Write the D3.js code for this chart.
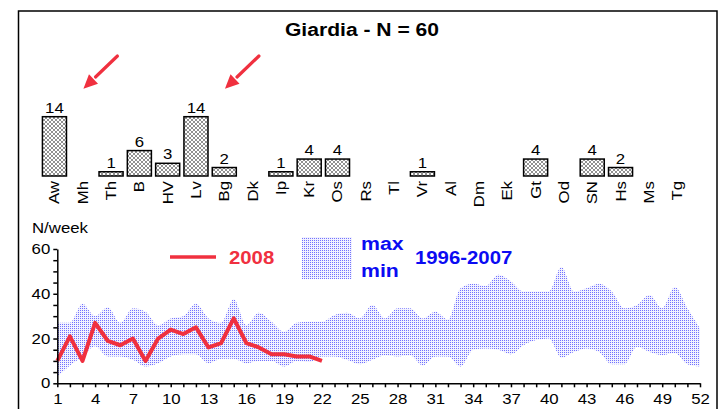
<!DOCTYPE html>
<html>
<head>
<meta charset="utf-8">
<script src="https://cdn.jsdelivr.net/npm/d3@7"></script>
<style>
  body { margin: 0; background: #fff; }
  svg { display: block; font-family: "Liberation Sans", Arial, sans-serif; }
  .axis path, .axis line { stroke: #000; stroke-width: 1.5px; }
  .axis text { font-size: 14px; fill: #000; }
</style>
</head>
<body>
<svg id="chart" width="724" height="409"></svg>
<script>
  // cases per municipality, 2008
  const regions = ['Aw','Mh','Th','B','HV','Lv','Bg','Dk','Ip','Kr','Os','Rs','Tl','Vr','Al','Dm','Ek','Gt','Od','SN','Hs','Ms','Tg'];
  const cases = [14,0,1,6,3,14,2,0,1,4,4,0,0,1,0,0,0,4,0,4,2,0,0];
  const arrowTargets = ['Aw', 'Lv'];

  // weekly counts
  const weeks = d3.range(1, 53);
  const max9607 = [27,27,35.5,30,34,27,33.5,32,26,29,30,35.5,29,27,37.5,26,31.5,27.5,23,27,
    27.5,27.5,30.5,31.5,29,35,29,33.5,33.5,29,32,28.5,42.5,44.5,43.5,48.5,45.5,41,41,41,
    52,41,42.5,44.5,41,33.5,35,39.5,33.5,43,33.5,24.5];
  const min9607 = [3,8,12,16.5,12,12,10.5,7.5,9,12,13,13,9,11,11,9,10,10,7.5,10,
    9.5,12,12,10.5,8.5,10.5,12.5,12,12.5,8,12,12,7.5,15,15.5,15,13,17,19.3,20,
    11.5,14,15.6,14,8.5,8.5,16.3,14,12.6,13.5,8.5,7.5];
  const y2008 = [10,21,10,27,19,17,20,10,20,24,22,25,16,18,29,18,16,13,13,12,12,10];

  const red = '#f0303f';
  const blue = '#0b0bf2';
  const sx = 1.2; // glyphs in the original are drawn wide

  const svg = d3.select('#chart');
  const defs = svg.append('defs');

  const hatch = defs.append('pattern').attr('id', 'hatch')
    .attr('patternUnits', 'userSpaceOnUse').attr('width', 4).attr('height', 4);
  hatch.append('rect').attr('width', 4).attr('height', 4).attr('fill', '#fff');
  hatch.append('path').attr('d', 'M0,0L4,4M4,0L0,4M-1,3L1,5M3,-1L5,1M-1,1L1,-1M3,5L5,3')
    .attr('stroke', '#555').attr('stroke-width', 0.65);

  const dots = defs.append('pattern').attr('id', 'dots')
    .attr('patternUnits', 'userSpaceOnUse').attr('width', 2).attr('height', 2);
  dots.append('rect').attr('width', 2).attr('height', 2).attr('fill', '#f2f2ff');
  dots.append('rect').attr('width', 1).attr('height', 1).attr('fill', '#7272ff');

  // frame (bottom edge runs off the picture)
  svg.append('rect').attr('x', 18.5).attr('y', 11).attr('width', 698.5).attr('height', 430)
    .attr('fill', 'none').attr('stroke', '#000').attr('stroke-width', 1.5);

  function wideText(g, x, y, s, k) {
    return g.append('text').attr('transform', `translate(${x},${y}) scale(${k || sx},1)`).text(s);
  }

  wideText(svg, 362, 36, 'Giardia - N = 60', 1.14)
    .attr('text-anchor', 'middle').attr('font-weight', 'bold').attr('font-size', 18.5);

  // ---- bars
  const xb = d3.scaleBand().domain(regions).range([40.3, 691.3])
    .paddingInner(0.15).paddingOuter(0.075);
  const yb = d3.scaleLinear().domain([0, 14]).range([176, 116.7]);
  const bars = svg.append('g');
  regions.forEach((r, i) => {
    const v = cases[i];
    const cx = xb(r) + xb.bandwidth() / 2;
    if (v > 0) {
      bars.append('rect').attr('x', xb(r)).attr('y', yb(v))
        .attr('width', xb.bandwidth()).attr('height', yb(0) - yb(v))
        .attr('fill', 'url(#hatch)').attr('stroke', '#000').attr('stroke-width', 1.5);
      wideText(bars, cx, yb(v) - 4, v).attr('text-anchor', 'middle').attr('font-size', 14);
    }
    bars.append('text')
      .attr('transform', `translate(${cx + 5},${yb(0) + 5}) rotate(-90) scale(${sx},1)`)
      .attr('text-anchor', 'end').attr('font-size', 14).text(r);
  });

  // red arrows pointing at the outbreak bars
  arrowTargets.forEach(r => {
    const tx = xb(r) + 41, ty = yb(14) - 28;
    const sx0 = tx + 34, sy0 = 56;
    const ang = Math.atan2(ty - sy0, tx - sx0);
    const L = 14, W = 6.5;
    const bx = tx - L * Math.cos(ang), by = ty - L * Math.sin(ang);
    svg.append('line').attr('x1', sx0).attr('y1', sy0).attr('x2', bx + 2).attr('y2', by - 2)
      .attr('stroke', red).attr('stroke-width', 3.2).attr('stroke-linecap', 'round');
    const px = -Math.sin(ang) * W, py = Math.cos(ang) * W;
    svg.append('path').attr('d', `M${tx},${ty}L${bx + px},${by + py}L${bx - px},${by - py}Z`)
      .attr('fill', red);
  });

  // ---- weekly chart
  const x = d3.scaleLinear().domain([1, 52]).range([57.3, 700]);
  const y = d3.scaleLinear().domain([0, 60]).range([383.3, 249]);

  const band = d3.area().x((d, i) => x(weeks[i]))
    .y0((d, i) => y(min9607[i])).y1(d => y(d)).curve(d3.curveMonotoneX);
  svg.append('path').datum(max9607).attr('d', band).attr('fill', 'url(#dots)');

  const line = d3.line().x((d, i) => x(weeks[i])).y(d => y(d));
  svg.append('path').datum(y2008).attr('d', line).attr('fill', 'none')
    .attr('stroke', red).attr('stroke-width', 4).attr('stroke-linejoin', 'round');

  const gx = svg.append('g').attr('class', 'axis').attr('transform', `translate(0,${y(0)})`)
    .call(d3.axisBottom(x).tickValues(weeks).tickSize(4).tickSizeOuter(0)
      .tickFormat(d => (d - 1) % 3 === 0 ? d : ''));
  gx.selectAll('text').attr('y', 11).attr('transform', `scale(${sx},1)`);

  const gy = svg.append('g').attr('class', 'axis').attr('transform', `translate(${x(1)},0)`)
    .call(d3.axisLeft(y).tickValues(d3.range(0, 61, 5)).tickSize(4).tickSizeOuter(0)
      .tickFormat(d => d % 20 === 0 ? d : ''));
  gy.selectAll('text').attr('x', -7 / sx).attr('transform', `scale(${sx},1)`);
  svg.selectAll('.axis').attr('font-family', null).attr('font-size', null);

  wideText(svg, 32, 233, 'N/week').attr('font-size', 14);

  // legend
  svg.append('line').attr('x1', 170).attr('x2', 216).attr('y1', 257).attr('y2', 257)
    .attr('stroke', red).attr('stroke-width', 3.5);
  wideText(svg, 229, 263.5, '2008', 1.1).attr('fill', red)
    .attr('font-weight', 'bold').attr('font-size', 18.5);
  svg.append('rect').attr('x', 302).attr('y', 237).attr('width', 50).attr('height', 42)
    .attr('fill', 'url(#dots)');
  wideText(svg, 361, 250, 'max', 1.12).attr('fill', blue).attr('font-weight', 'bold').attr('font-size', 19);
  wideText(svg, 361, 277, 'min', 1.12).attr('fill', blue).attr('font-weight', 'bold').attr('font-size', 19);
  wideText(svg, 415, 263.5, '1996-2007', 1.1).attr('fill', blue)
    .attr('font-weight', 'bold').attr('font-size', 18.5);
</script>
</body>
</html>
